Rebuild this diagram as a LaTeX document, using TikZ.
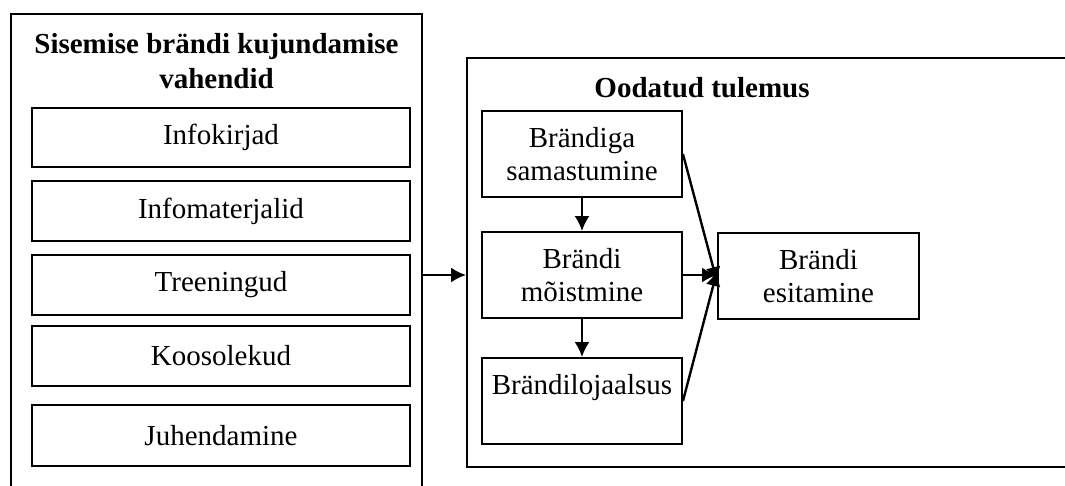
\documentclass[tikz,border=0pt]{standalone}
\usepackage{fontspec}
\setmainfont{Liberation Serif}
\usetikzlibrary{arrows.meta}
\begin{document}
\begin{tikzpicture}[x=1pt,y=-1pt,
  box/.style={draw, line width=1.9pt, rectangle, inner sep=0pt, align=center,
    font=\fontsize{29}{33}\selectfont},
  ttl/.style={align=center, inner sep=0pt, font=\fontsize{29}{35}\selectfont\bfseries},
  txt/.style={align=center, inner sep=0pt, font=\fontsize{29}{33}\selectfont},
  arr/.style={line width=2.4pt, -{Latex[length=15pt,width=15pt]}}]
\clip (0,0) rectangle (1065,485);
\fill[white] (0,0) rectangle (1065,485);
% left frame: tools of internal branding
\node (outL) [box, minimum width=411pt, minimum height=506pt] at (216.5,267) {};
\node (ttlL) [ttl] at (216.5,61) {Sisemise brändi kujundamise\\vahendid};
\node (t1) [box, minimum width=378pt, minimum height=59pt] at (221,137.5) {Infokirjad};
\node (t2) [box, minimum width=378pt, minimum height=60pt] at (221,211) {Infomaterjalid};
\node (t3) [box, minimum width=378pt, minimum height=60pt] at (221,285) {Treeningud};
\node (t4) [box, minimum width=378pt, minimum height=60pt] at (221,356) {Koosolekud};
\node (t5) [box, minimum width=378pt, minimum height=61pt] at (221,435.5) {Juhendamine};
% right frame: expected outcome
\node (outR) [box, minimum width=633pt, minimum height=409pt] at (783.5,262.5) {};
\node (ttlR) [ttl] at (702,88) {Oodatud tulemus};
\node (b1) [box, minimum width=200pt, minimum height=86pt] at (582,154) {Brändiga\\samastumine};
\node (b2) [box, minimum width=200pt, minimum height=86pt] at (582,275) {Brändi\\mõistmine};
\node (b3) [box, minimum width=200pt, minimum height=86pt] at (582,401) {};
\node (b3t) [txt] at (582,388) {Brändilojaalsus};
\node (b4) [box, minimum width=201pt, minimum height=86pt] at (818.5,276) {Brändi\\esitamine};
% connectors
\draw[arr] (outL.east |- b2.west) -- (outR.west |- b2.west);
\draw[arr] (b1.south) -- (b2.north);
\draw[arr] (b2.south) -- (b3.north);
\draw[arr] (b1.east) -- ([yshift=-6pt]b4.west);
\draw[arr] (b2.east) -- (b2.east -| b4.west);
\draw[arr] (b3.east) -- ([yshift=5pt]b4.west);
\end{tikzpicture}
\end{document}
